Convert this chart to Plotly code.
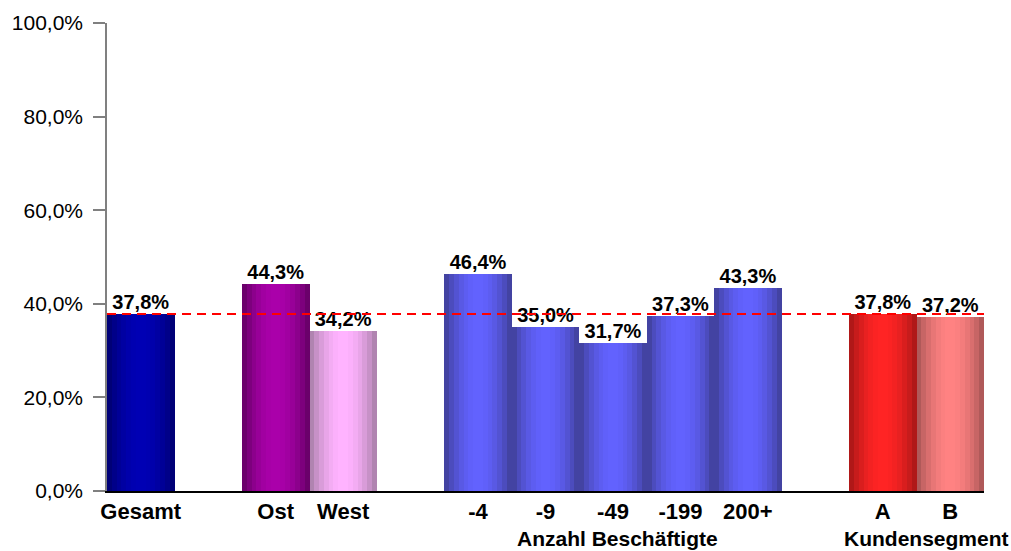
import numpy as np
import plotly.graph_objects as go

# ---- data ----
categories = ["Gesamt", "Ost", "West", "-4", "-9", "-49", "-199", "200+", "A", "B"]
values = [37.8, 44.3, 34.2, 46.4, 35.0, 31.7, 37.3, 43.3, 37.8, 37.2]
group_index = [0, 1, 1, 2, 2, 2, 2, 2, 3, 3]
group_labels = ["", "", "Anzahl Beschäftigte", "Kundensegment"]
y_ticks = [0, 20, 40, 60, 80, 100]
reference_value = values[0]

# ---- style ----
# (edge colour, centre colour) for the cylindrical shading
palette = {
    "Gesamt": ("#00006a", "#0000b4"),
    "Ost": ("#5e005e", "#aa00aa"),
    "West": ("#a07aa0", "#ffb3ff"),
    "-4": ("#3c3c8e", "#6262ff"),
    "-9": ("#3c3c8e", "#6262ff"),
    "-49": ("#3c3c8e", "#6262ff"),
    "-199": ("#3c3c8e", "#6262ff"),
    "200+": ("#3c3c8e", "#6262ff"),
    "A": ("#a01616", "#ff2424"),
    "B": ("#a05050", "#ff8282"),
}
group_label_xshift = [0, 0, 5, 10]
N_STRIPES = 14
FONT = "Arial, Liberation Sans, sans-serif"


def hex2rgb(h):
    h = h.lstrip("#")
    return np.array([int(h[i:i + 2], 16) for i in (0, 2, 4)], dtype=float)


def shade(cat, t):
    e, c = palette[cat]
    e, c = hex2rgb(e), hex2rgb(c)
    s = np.sin(np.pi * t) ** 0.8
    r = e + (c - e) * s
    return "rgb(%d,%d,%d)" % tuple(np.clip(r, 0, 255).round())


def pct(v):
    return ("%.1f%%" % v).replace(".", ",")


# x positions from group structure: one empty slot between groups
positions = []
p = -1
prev = None
for g in group_index:
    p += 1 if g == prev else (2 if prev is not None else 1)
    positions.append(p)
    prev = g

fig = go.Figure()
w = 1.0 / N_STRIPES
for i in range(N_STRIPES):
    t = (i + 0.5) / N_STRIPES
    fig.add_trace(go.Bar(
        x=positions, y=values,
        width=w * 1.04, offset=-0.5 + i * w,
        marker=dict(color=[shade(c, t) for c in categories], line=dict(width=0)),
        showlegend=False, hoverinfo="skip",
    ))

fig.add_trace(go.Scatter(
    x=positions, y=values, mode="text",
    text=["<b>%s</b>" % pct(v) for v in values], textposition="top center",
    textfont=dict(size=20, color="black", family=FONT),
    cliponaxis=False, showlegend=False, hoverinfo="skip",
))

fig.add_shape(type="line", xref="paper", x0=0, x1=1, yref="y",
              y0=reference_value, y1=reference_value,
              line=dict(color="#ff0000", width=2, dash="9px,6px"), layer="above")

for gi, label in enumerate(group_labels):
    if not label:
        continue
    xs = [positions[k] for k, g in enumerate(group_index) if g == gi]
    fig.add_annotation(x=float(np.mean(xs)), xref="x", y=0, yref="paper",
                       yshift=-47, xshift=group_label_xshift[gi],
                       yanchor="middle", showarrow=False,
                       text="<b>%s</b>" % label,
                       font=dict(size=21, color="black", family=FONT))

fig.update_layout(
    width=1011, height=551,
    margin=dict(l=107, r=27, t=23, b=60),
    paper_bgcolor="white", plot_bgcolor="white",
    barmode="overlay", bargap=0,
    font=dict(family=FONT, color="black"),
    xaxis=dict(range=[-0.5, positions[-1] + 0.5], tickvals=positions, ticktext=categories,
               tickfont=dict(size=22, weight="bold", family=FONT), ticks="",
               showline=True, linecolor="black", linewidth=1.5, showgrid=False,
               zeroline=False, fixedrange=True),
    yaxis=dict(range=[0, 100], tickvals=y_ticks, ticktext=[pct(v) for v in y_ticks],
               tickfont=dict(size=21, family=FONT),
               ticks="outside", ticklen=12, tickcolor="#808080", tickwidth=1.5,
               showline=True, linecolor="#808080", linewidth=1.5,
               showgrid=False, zeroline=False, ticklabelstandoff=6, fixedrange=True),
)

fig.write_html("out.html")
